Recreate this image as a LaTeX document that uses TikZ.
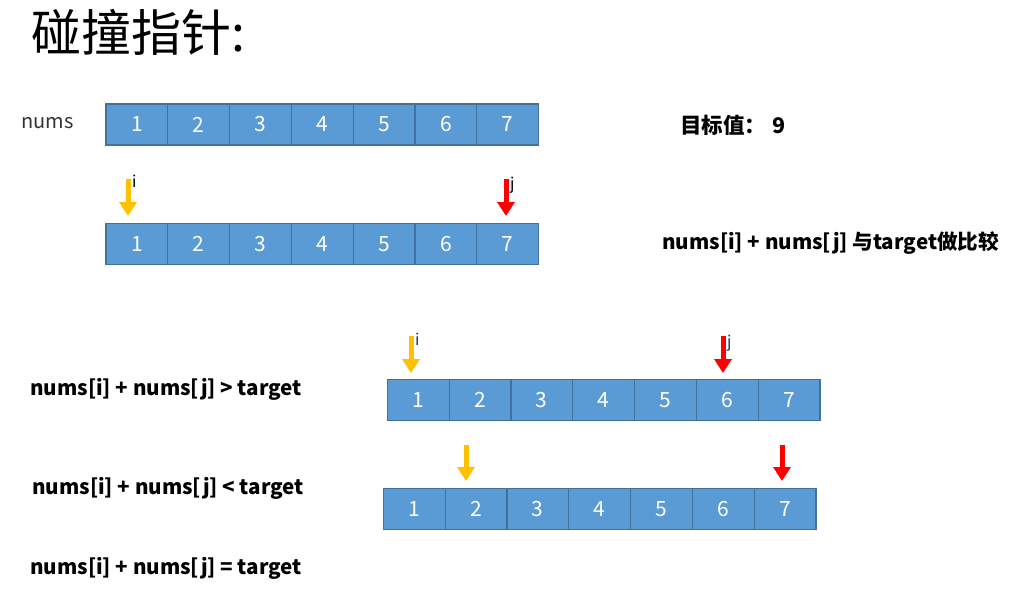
\documentclass[tikz,border=0pt]{standalone}
\usepackage{fontspec}
\setmainfont{Noto Sans CJK SC}
\usetikzlibrary{arrows.meta,positioning}
\definecolor{cellfill}{HTML}{5B9BD5}
\definecolor{celledge}{HTML}{41719C}
\definecolor{ptryellow}{HTML}{FFC000}
\definecolor{ptrred}{HTML}{FF0000}
\definecolor{labelnavy}{HTML}{1F3864}
\tikzset{
    cell/.style={
        draw=celledge, fill=cellfill, line width=1.2pt,
        minimum width=61.8pt, minimum height=41pt, inner sep=0pt,
        text=white, font=\fontsize{21}{21}\selectfont
    },
    ptr/.style={
        line width=5pt,
        -{Triangle[width=17pt,length=14pt]}
    },
    ptr i/.style={ptr, ptryellow},
    ptr j/.style={ptr, ptrred},
    ptrlabel/.style={font=\fontsize{16}{16}\selectfont, inner sep=0pt},
    note/.style={anchor=west, inner sep=0pt, font=\fontsize{20.6}{20.6}\selectfont\bfseries}
}

\begin{document}
\begin{tikzpicture}[x=1pt,y=-1pt]
\useasboundingbox (0,0) rectangle (1034,592);

% title
\node[anchor=west, inner sep=0pt, font=\fontsize{50}{50}\selectfont] (title) at (31,32) {碰撞指针:};

% the four arrays
\foreach \r/\x/\y in {1/106/124.5, 2/106/243.7, 3/387.3/399.7, 4/383.3/508.8}
  \foreach \k in {1,...,7}
    \node[cell] (r\r c\k) at ({\x+61.8*(\k-0.5)},\y) {\k};

\node[anchor=west, inner sep=0pt, font=\fontsize{20}{20}\selectfont, text=black!80] (numsname) at (21,123) {nums};
\node[note, font=\fontsize{21.5}{21.5}\selectfont\bfseries] (goal) at (680,125) {目标值：\hspace{6pt}9};
\node[note] (cmp) at (662,243) {nums[i] + nums[j] 与target做比较};
\node[note] (gt) at (30,389) {nums[i] + nums[j] > target};
\node[note] (lt) at (32,488) {nums[i] + nums[j] < target};
\node[note] (eq) at (30,568) {nums[i] + nums[j] = target};

% pointers
\coordinate (i2s) at (128,179); \coordinate (i2e) at (128,216);
\coordinate (j2s) at (506,179); \coordinate (j2e) at (506,216);
\coordinate (i3s) at (411,336); \coordinate (i3e) at (411,373);
\coordinate (j3s) at (723,336); \coordinate (j3e) at (723,373);
\coordinate (i4s) at (466,445); \coordinate (i4e) at (466,481);
\coordinate (j4s) at (782,445); \coordinate (j4e) at (782,481);
\draw[ptr i] (i2s) -- (i2e);
\draw[ptr j] (j2s) -- (j2e);
\draw[ptr i] (i3s) -- (i3e);
\draw[ptr j] (j3s) -- (j3e);
\draw[ptr i] (i4s) -- (i4e);
\draw[ptr j] (j4s) -- (j4e);

\node[ptrlabel, right=4pt of i2s, yshift=-2pt] (ilab2) {i};
\node[ptrlabel, right=4pt of j2s, yshift=-6pt] (jlab2) {j};
\node[ptrlabel, text=labelnavy, right=4pt of i3s, yshift=-3pt] (ilab3) {i};
\node[ptrlabel, text=labelnavy, right=4pt of j3s, yshift=-7pt] (jlab3) {j};
\end{tikzpicture}
\end{document}
